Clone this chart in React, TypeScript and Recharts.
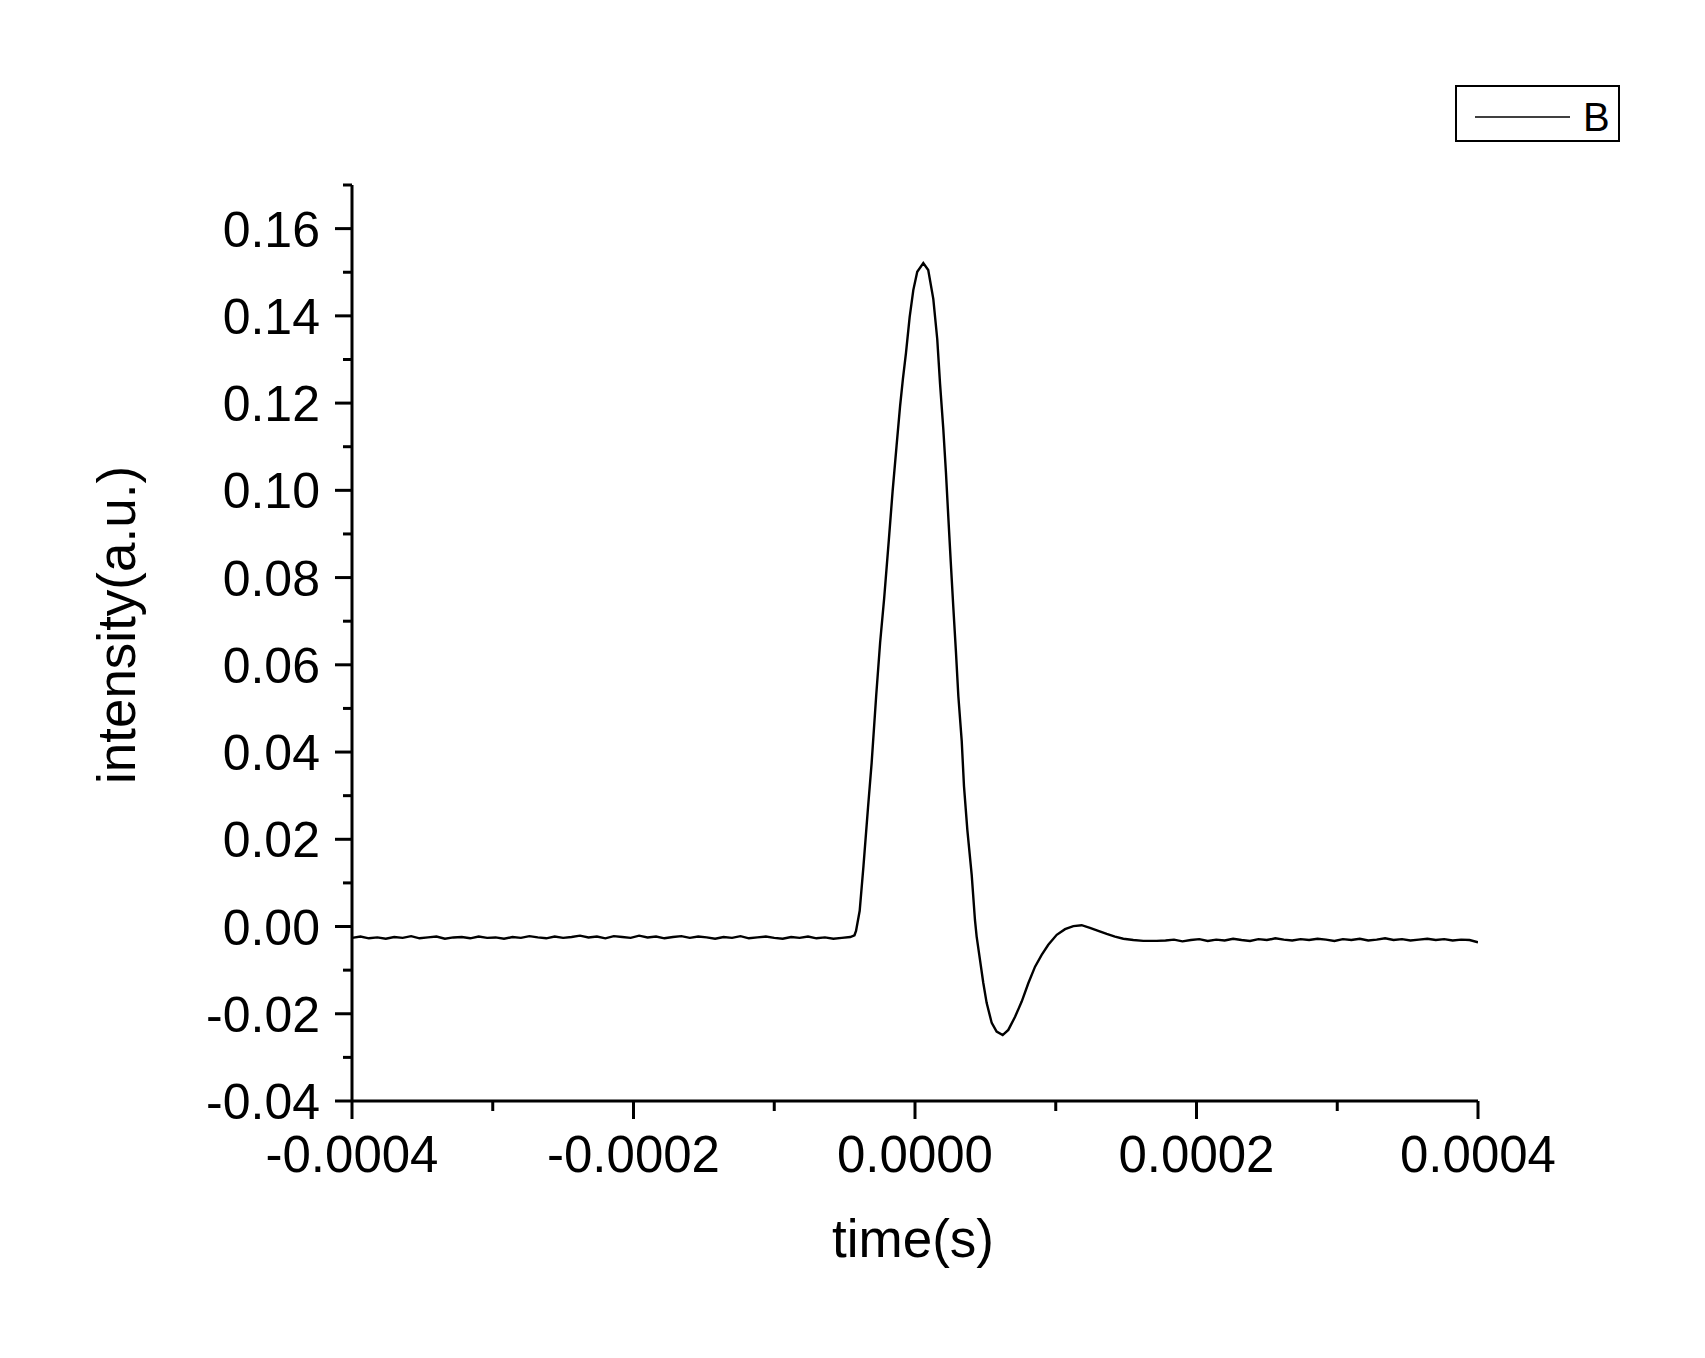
import React from "react";
import { LineChart, Line, XAxis, YAxis, Legend, Label } from "recharts";

// time in microseconds, intensity in a.u.
const preTime = [
  -400, -394, -388, -382, -376, -370, -364, -358, -352, -346,
  -340, -334, -328, -322, -316, -310, -304, -298, -292, -286,
  -280, -274, -268, -262, -256, -250, -244, -238, -232, -226,
  -220, -214, -208, -202, -196, -190, -184, -178, -172, -166,
  -160, -154, -148, -142, -136, -130, -124, -118, -112, -106,
  -100, -94, -88, -82, -76, -70, -64, -58, -52, -46,
];
const preIntensity = [
  -0.0026, -0.0023, -0.0027, -0.0025, -0.0028, -0.0024, -0.0026, -0.0022, -0.0027, -0.0025,
  -0.0023, -0.0028, -0.0025, -0.0024, -0.0027, -0.0023, -0.0026, -0.0025, -0.0028, -0.0024,
  -0.0026, -0.0022, -0.0025, -0.0027, -0.0023, -0.0026, -0.0024, -0.0021, -0.0025, -0.0023,
  -0.0027, -0.0022, -0.0024, -0.0026, -0.0021, -0.0025, -0.0023, -0.0027, -0.0024, -0.0022,
  -0.0026, -0.0023, -0.0025, -0.0028, -0.0024, -0.0026, -0.0022, -0.0027, -0.0025, -0.0023,
  -0.0026, -0.0028, -0.0024, -0.0026, -0.0023, -0.0027, -0.0025, -0.0028, -0.0026, -0.0024,
];

const pulseTime = [
  -43.0, -41.9, -39.3, -36.6, -33.4, -30.8, -27.6, -24.8, -21.9, -18.6,
  -15.9, -13.1, -10.6, -8.6, -6.4, -3.8, -1.2, 1.6, 5.9, 9.4,
  13.0, 15.8, 17.8, 20.1, 22.0, 23.7, 25.4, 27.2, 29.1, 30.8,
  33.2, 34.8, 37.2, 40.3, 42.6, 43.8, 46.2, 48.5, 50.9, 54.5,
  58.0, 62.3, 66.3, 71.1, 75.8, 80.5, 85.3, 90.0, 94.7, 100.7,
  106.6, 112.5, 118.4, 124.3, 130.2, 136.2, 142.1, 148.0, 155.1, 162.2,
  171.7,
];
const pulseIntensity = [
  -0.0020, -0.0010, 0.0036, 0.0139, 0.0272, 0.0375, 0.0528, 0.0650, 0.0753, 0.0886,
  0.0998, 0.1102, 0.1193, 0.1255, 0.1315, 0.1397, 0.1459, 0.1501, 0.1521, 0.1505,
  0.1439, 0.1347, 0.1244, 0.1141, 0.1040, 0.0937, 0.0836, 0.0733, 0.0629, 0.0528,
  0.0425, 0.0322, 0.0221, 0.0118, 0.0015, -0.0023, -0.0077, -0.0129, -0.0175, -0.0221,
  -0.0241, -0.0249, -0.0237, -0.0207, -0.0172, -0.0130, -0.0092, -0.0065, -0.0042, -0.0019,
  -0.0006, 0.0001, 0.0003, -0.0003, -0.0010, -0.0017, -0.0023, -0.0028, -0.0031, -0.0033,
  -0.0033,
];

const tailTime = [
  178, 184, 190, 196, 202, 208, 214, 220, 226, 232,
  238, 244, 250, 256, 262, 268, 274, 280, 286, 292,
  298, 304, 310, 316, 322, 328, 334, 340, 346, 352,
  358, 364, 370, 376, 382, 388, 394, 400,
];
const tailIntensity = [
  -0.0032, -0.0030, -0.0034, -0.0031, -0.0029, -0.0033, -0.0030, -0.0032, -0.0028, -0.0031,
  -0.0033, -0.0029, -0.0031, -0.0027, -0.0030, -0.0032, -0.0029, -0.0031, -0.0028, -0.0030,
  -0.0033, -0.0029, -0.0031, -0.0028, -0.0032, -0.0030, -0.0027, -0.0031, -0.0029, -0.0032,
  -0.0030, -0.0028, -0.0031, -0.0029, -0.0032, -0.0030, -0.0031, -0.0036,
];

const xTicks = [-400, -300, -200, -100, 0, 100, 200, 300, 400];
const yTicks = [-0.04, -0.03, -0.02, -0.01, 0, 0.01, 0.02, 0.03, 0.04, 0.05, 0.06, 0.07, 0.08, 0.09, 0.1, 0.11, 0.12, 0.13, 0.14, 0.15, 0.16, 0.17];

const data = [
  ...preTime.map((t, i) => ({ t, B: preIntensity[i] })),
  ...pulseTime.map((t, i) => ({ t, B: pulseIntensity[i] })),
  ...tailTime.map((t, i) => ({ t, B: tailIntensity[i] })),
];

const FONT = "'Liberation Sans', Arial, sans-serif";

const YTick = (props: any) => {
  const { x, y, payload } = props;
  const v = payload.value;
  const major = Math.round(v * 100) % 2 === 0;
  return (
    <g>
      <line x1={x - (major ? 17 : 9)} x2={x} y1={y} y2={y} stroke="#000" strokeWidth={3} />
      {major && (
        <text x={x - 32} y={y} dy="0.36em" textAnchor="end" fontSize={50} fontFamily={FONT} fill="#000">
          {v.toFixed(2)}
        </text>
      )}
    </g>
  );
};

const XTick = (props: any) => {
  const { x, y, payload } = props;
  const v = payload.value;
  const major = v % 200 === 0;
  return (
    <g>
      <line x1={x} x2={x} y1={y} y2={y + (major ? 18 : 10)} stroke="#000" strokeWidth={3} />
      {major && (
        <text x={x} y={y + 71} textAnchor="middle" fontSize={51} fontFamily={FONT} fill="#000">
          {(v / 1e6).toFixed(4)}
        </text>
      )}
    </g>
  );
};

const LegendBox = (props: any) => {
  const item = props.payload && props.payload[0];
  return (
    <svg width={165} height={57} style={{ display: "block" }}>
      <rect x={1} y={1} width={163} height={55} fill="#fff" stroke="#000" strokeWidth={2} />
      <line x1={20} x2={115} y1={32} y2={32} stroke="#000" strokeWidth={1.5} />
      <text x={128} y={46} fontSize={40} fontFamily={FONT} fill="#000">
        {item ? item.value : "B"}
      </text>
    </svg>
  );
};

export default function App() {
  return (
    <div style={{ position: "absolute", left: 0, top: 0, width: 1705, height: 1358, background: "#fff" }}>
      <LineChart width={1705} height={1358} data={data} margin={{ top: 185, right: 227, bottom: 177, left: 232 }}>
        <XAxis
          dataKey="t"
          type="number"
          domain={[-400, 400]}
          ticks={xTicks}
          height={80}
          tick={<XTick />}
          tickSize={0}
          tickMargin={0}
          tickLine={false}
          axisLine={{ stroke: "#000", strokeWidth: 3 }}
          allowDataOverflow
        >
          <Label
            content={(p: any) => {
              const vb = p.viewBox;
              return (
                <text x={vb.x + vb.width / 2 - 2} y={vb.y + 156} textAnchor="middle" fontSize={53} fontFamily={FONT} fill="#000">
                  time(s)
                </text>
              );
            }}
          />
        </XAxis>
        <YAxis
          type="number"
          domain={[-0.04, 0.17]}
          ticks={yTicks}
          width={120}
          tick={<YTick />}
          tickSize={0}
          tickMargin={0}
          tickLine={false}
          axisLine={{ stroke: "#000", strokeWidth: 3 }}
          allowDataOverflow
        >
          <Label
            content={(p: any) => {
              const vb = p.viewBox;
              const cx = vb.x + vb.width - 217;
              const cy = vb.y + vb.height / 2 - 18;
              return (
                <text x={cx} y={cy} transform={`rotate(-90 ${cx} ${cy})`} textAnchor="middle" fontSize={53} fontFamily={FONT} fill="#000">
                  intensity(a.u.)
                </text>
              );
            }}
          />
        </YAxis>
        <Legend
          layout="horizontal"
          verticalAlign="middle"
          align="center"
          content={<LegendBox />}
          wrapperStyle={{ left: 1455, top: 85, width: 165, height: 57 }}
        />
        <Line type="linear" dataKey="B" name="B" stroke="#000" strokeWidth={2.4} dot={false} isAnimationActive={false} />
      </LineChart>
    </div>
  );
}
